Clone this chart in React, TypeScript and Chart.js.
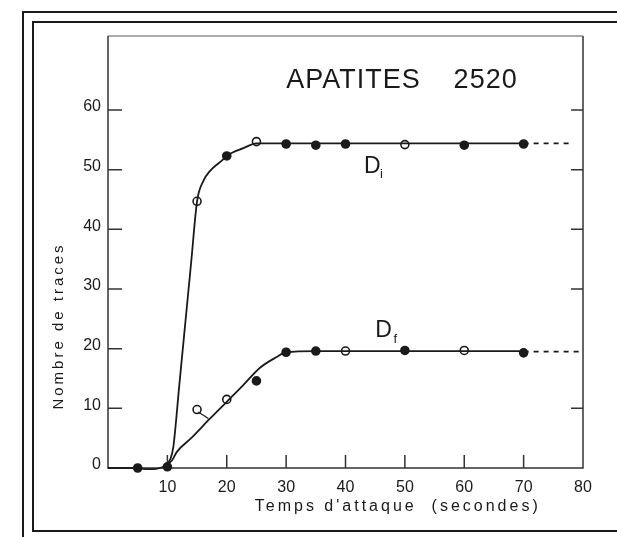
import { useEffect, useRef } from "react";
import { Chart, registerables } from "chart.js";
Chart.register(...registerables);

// ---- data ----
const xTicks = [10, 20, 30, 40, 50, 60, 70, 80];
const yTicks = [0, 10, 20, 30, 40, 50, 60];
const yRightTicks = [10, 30, 40, 50, 60];

const diTimes = [15, 20, 25, 30, 35, 40, 50, 60, 70];
const diValues = [44.7, 52.3, 54.7, 54.3, 54.1, 54.3, 54.2, 54.1, 54.3];
const diOpen = [true, false, true, false, false, false, true, false, false];

const dfTimes = [5, 10, 15, 20, 25, 30, 35, 40, 50, 60, 70];
const dfValues = [0, 0.2, 9.8, 11.5, 14.6, 19.4, 19.6, 19.6, 19.7, 19.7, 19.3];
const dfOpen = [false, false, true, true, false, false, false, true, false, true, false];

// fitted curves as drawn
const diCurveX = [0, 4, 7, 9.5, 10.5, 11, 12, 13, 14, 15, 16, 17.2, 18.9, 20.3, 22.8, 25, 30, 70];
const diCurveY = [0, 0, -0.2, 0.3, 1.5, 3.5, 13.8, 24.1, 34.4, 44.7, 48, 49.8, 51.3, 52.5, 53.6, 54.4, 54.4, 54.4];
const diDashX = [70, 78.3];
const diDashY = [54.4, 54.4];

const dfCurveX = [9.5, 10.8, 11.6, 14, 17.2, 20, 22.7, 25.6, 28.4, 30, 35, 70];
const dfCurveY = [0.3, 1.3, 2.7, 5, 8.3, 11.1, 13.8, 16.8, 18.6, 19.4, 19.6, 19.6];
const dfDashX = [70, 79.5];
const dfDashY = [19.5, 19.5];

const leaderX = [15.2, 16.9];
const leaderY = [9.4, 8.3];

const titleLeft = "APATITES";
const titleRight = "2520";
const xTitle = "Temps d'attaque  (secondes)";
const yTitle = "Nombre de traces";

// ---- layout / style (not data) ----
const INK = "#1a1a1a";
const FONT = "'Liberation Sans', Arial, sans-serif";
const anchors = {
  titleLeft: { x: 30, y: 63.7 },
  titleRight: { x: 69, y: 63.7 },
  diD: { x: 43.1, y: 49.4 },
  diSub: { x: 45.8, y: 48.6 },
  dfD: { x: 45, y: 22.0 },
  dfSub: { x: 48.1, y: 20.9 },
  xTitle: { x: 48.8, y: -7.2 },
  yTitle: { x: -8.3, y: 23.8 },
};

const pts = (xs: number[], ys: number[]) => xs.map((x, i) => ({ x, y: ys[i] }));

const framePlugin = {
  id: "frame",
  beforeDraw(chart: any) {
    const ctx = chart.ctx as CanvasRenderingContext2D;
    ctx.save();
    ctx.fillStyle = "#fff";
    ctx.fillRect(0, 0, chart.width, chart.height);
    ctx.strokeStyle = INK;
    ctx.lineWidth = 2;
    ctx.beginPath();
    ctx.moveTo(23, 537);
    ctx.lineTo(23, 12);
    ctx.lineTo(617, 12);
    ctx.stroke();
    ctx.beginPath();
    ctx.moveTo(617, 22);
    ctx.lineTo(33, 22);
    ctx.lineTo(33, 531);
    ctx.lineTo(617, 531);
    ctx.stroke();
    ctx.restore();
  },
  beforeDatasetsDraw(chart: any) {
    const ctx = chart.ctx as CanvasRenderingContext2D;
    const { left, right, top, bottom } = chart.chartArea;
    const xs = chart.scales.x;
    const ys = chart.scales.y;
    ctx.save();
    ctx.strokeStyle = "#333";
    ctx.lineWidth = 1.5;
    ctx.beginPath();
    ctx.moveTo(left, top);
    ctx.lineTo(left, bottom);
    ctx.lineTo(right, bottom);
    ctx.lineTo(right, top);
    ctx.stroke();
    ctx.lineWidth = 1;
    ctx.strokeStyle = "#555";
    ctx.beginPath();
    ctx.moveTo(left, top);
    ctx.lineTo(right, top);
    ctx.stroke();
    ctx.lineWidth = 1.5;
    ctx.strokeStyle = "#333";
    ctx.beginPath();
    yTicks.filter((v) => v > 0).forEach((v) => {
      const p = ys.getPixelForValue(v);
      ctx.moveTo(left, p);
      ctx.lineTo(left + 14, p);
    });
    yRightTicks.forEach((v) => {
      const p = ys.getPixelForValue(v);
      ctx.moveTo(right, p);
      ctx.lineTo(right - 12, p);
    });
    xTicks.filter((v) => v < 80).forEach((v) => {
      const p = xs.getPixelForValue(v);
      ctx.moveTo(p, bottom);
      ctx.lineTo(p, bottom - 13);
    });
    ctx.stroke();
    ctx.restore();
  },
  afterDraw(chart: any) {
    const ctx = chart.ctx as CanvasRenderingContext2D;
    const xs = chart.scales.x;
    const ys = chart.scales.y;
    const px = (a: { x: number; y: number }) => [xs.getPixelForValue(a.x), ys.getPixelForValue(a.y)];
    ctx.save();
    ctx.fillStyle = INK;
    ctx.textBaseline = "alphabetic";
    // title
    ctx.font = `27px ${FONT}`;
    (ctx as any).letterSpacing = "1px";
    let [x, y] = px(anchors.titleLeft);
    ctx.textAlign = "left";
    ctx.fillText(titleLeft, x, y);
    [x, y] = px(anchors.titleRight);
    ctx.textAlign = "right";
    ctx.fillText(titleRight, x, y);
    (ctx as any).letterSpacing = "0px";
    // series labels
    ctx.textAlign = "left";
    ctx.font = `23px ${FONT}`;
    [x, y] = px(anchors.diD);
    ctx.fillText("D", x, y);
    [x, y] = px(anchors.dfD);
    ctx.fillText("D", x, y);
    ctx.font = `13px ${FONT}`;
    [x, y] = px(anchors.diSub);
    ctx.fillText("i", x, y);
    [x, y] = px(anchors.dfSub);
    ctx.fillText("f", x, y);
    // axis titles
    ctx.font = `16px ${FONT}`;
    (ctx as any).letterSpacing = "3px";
    ctx.textAlign = "center";
    [x, y] = px(anchors.xTitle);
    ctx.fillText(xTitle, x, y);
    ctx.font = `15px ${FONT}`;
    [x, y] = px(anchors.yTitle);
    ctx.translate(x, y);
    ctx.rotate(-Math.PI / 2);
    ctx.textBaseline = "middle";
    ctx.fillText(yTitle, 0, 0);
    ctx.restore();
  },
};

export default function App() {
  const ref = useRef<HTMLCanvasElement | null>(null);
  useEffect(() => {
    if (!ref.current) return;
    const lineDs = (data: any[], dash: number[] = []) => ({
      data,
      showLine: true,
      borderColor: INK,
      borderWidth: 1.8,
      borderDash: dash,
      pointRadius: 0,
      cubicInterpolationMode: "monotone" as const,
      clip: false as const,
    });
    const pointDs = (xs: number[], ys: number[], open: boolean[]) => ({
      data: pts(xs, ys),
      showLine: false,
      pointRadius: 4,
      pointBorderWidth: 1.6,
      pointBorderColor: INK,
      pointBackgroundColor: open.map((o) => (o ? "#fff" : INK)),
      clip: false as const,
    });
    const chart = new Chart(ref.current, {
      type: "scatter",
      data: {
        datasets: [
          lineDs(pts(diCurveX, diCurveY)),
          lineDs(pts(diDashX, diDashY), [5, 5]),
          lineDs(pts(dfCurveX, dfCurveY)),
          lineDs(pts(dfDashX, dfDashY), [5, 5]),
          { ...lineDs(pts(leaderX, leaderY)), cubicInterpolationMode: "default" as const, borderWidth: 1.2 },
          pointDs(diTimes, diValues, diOpen),
          pointDs(dfTimes, dfValues, dfOpen),
        ] as any,
      },
      options: {
        animation: false,
        responsive: false,
        maintainAspectRatio: false,
        layout: { padding: { top: 36, right: 34, left: 0, bottom: 0 } },
        plugins: { legend: { display: false }, tooltip: { enabled: false } },
        scales: {
          x: {
            type: "linear",
            min: 0,
            max: 80,
            afterBuildTicks: (s: any) => {
              s.ticks = xTicks.map((v) => ({ value: v }));
            },
            afterFit: (s: any) => {
              s.height = 69;
            },
            grid: { display: false, drawTicks: false },
            border: { display: false },
            ticks: { font: { family: FONT, size: 16 }, color: INK, padding: 10, maxRotation: 0, autoSkip: false },
          },
          y: {
            type: "linear",
            min: 0,
            max: 72.4,
            afterBuildTicks: (s: any) => {
              s.ticks = yTicks.map((v) => ({ value: v }));
            },
            afterFit: (s: any) => {
              s.width = 108;
            },
            grid: { display: false, drawTicks: false },
            border: { display: false },
            ticks: { font: { family: FONT, size: 16 }, color: INK, padding: 7, labelOffset: -3, autoSkip: false },
          },
        },
      },
      plugins: [framePlugin],
    });
    return () => chart.destroy();
  }, []);
  return (
    <div style={{ position: "absolute", left: 0, top: 0, width: 617, height: 537, background: "#fff" }}>
      <canvas ref={ref} width={617} height={537} style={{ display: "block", width: 617, height: 537 }} />
    </div>
  );
}
